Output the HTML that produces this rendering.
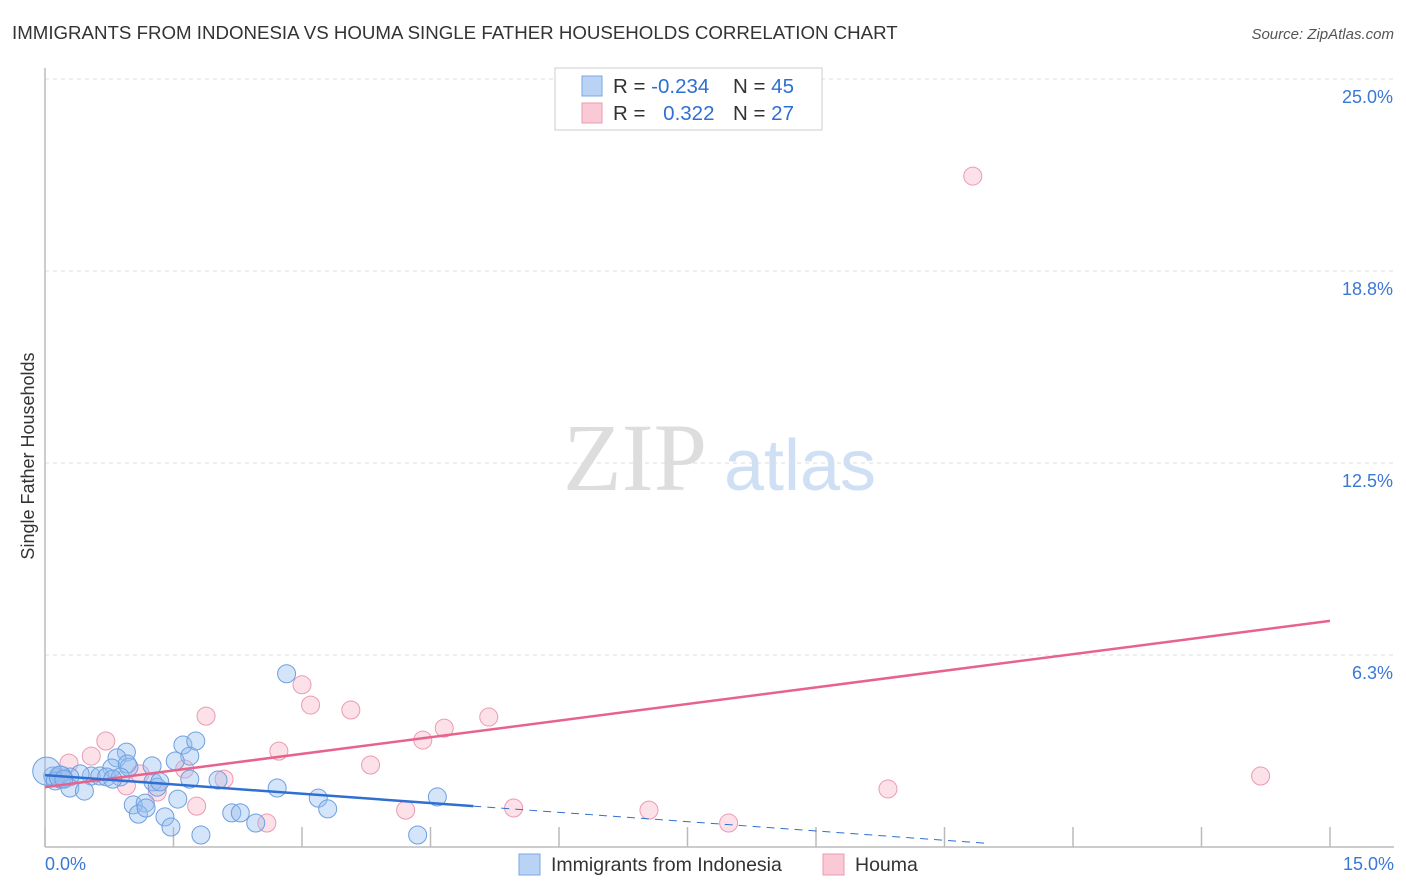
<!DOCTYPE html>
<html><head><meta charset="utf-8">
<style>
body{margin:0;background:#fff;font-family:"Liberation Sans",sans-serif;}
svg{display:block}
</style></head>
<body>
<svg id="chart" width="1406" height="892" xmlns="http://www.w3.org/2000/svg" font-family="Liberation Sans, sans-serif">
<text x="12" y="39" font-size="18.7" fill="#333">IMMIGRANTS FROM INDONESIA VS HOUMA SINGLE FATHER HOUSEHOLDS CORRELATION CHART</text>
<text x="1394" y="39" font-size="15" fill="#555" font-style="italic" text-anchor="end">Source: ZipAtlas.com</text>
<text transform="translate(34,456) rotate(-90)" font-size="18" fill="#333" text-anchor="middle">Single Father Households</text>
<g>
<text x="635" y="490" font-size="96" fill="#ddd" font-family="Liberation Serif, serif" text-anchor="middle">ZIP</text>
<text x="800" y="490" font-size="72" fill="#cfe0f5" text-anchor="middle">atlas</text>
</g>
<g id="grid"></g><g id="axes"></g><g id="marks"></g>
<g>
<rect x="555" y="68" width="267" height="62" fill="#fff" stroke="#ccc"/>
<rect x="582" y="76" width="20" height="20" fill="#b9d3f5" stroke="#7aa7e6"/>
<rect x="582" y="103" width="20" height="20" fill="#f9c9d6" stroke="#eb9ab2"/>
<text x="613" y="93" font-size="20.5" fill="#333">R = <tspan fill="#2f6fd1">-0.234</tspan></text>
<text x="733" y="93" font-size="20.5" fill="#333">N = <tspan fill="#2f6fd1">45</tspan></text>
<text x="613" y="120" font-size="20.5" fill="#333">R = <tspan fill="#2f6fd1" dx="12">0.322</tspan></text>
<text x="733" y="120" font-size="20.5" fill="#333">N = <tspan fill="#2f6fd1">27</tspan></text>
</g>
<g>
<rect x="519" y="854" width="21" height="21" fill="#b9d3f5" stroke="#7aa7e6"/>
<text x="551" y="871" font-size="19.5" fill="#333">Immigrants from Indonesia</text>
<rect x="823" y="854" width="21" height="21" fill="#f9c9d6" stroke="#eb9ab2"/>
<text x="855" y="871" font-size="19.5" fill="#333">Houma</text>
</g>
</svg>
<script>
const xTicks=[0,1.5,3,4.5,6,7.5,9,10.5,12,13.5,15];
const yTicks=[6.25,12.5,18.75,25];
const yTickLabels=["6.3%","12.5%","18.8%","25.0%"];
const blueX=[2.82,1.61,1.76,1.69,1.52,0.95,1.25,0.84,0.98,0.78,0.96,0.54,0.41,0.29,0.18,0.09,0.02,0.12,0.29,0.46,0.18,0.64,0.72,0.88,1.69,1.26,1.31,1.34,1.55,1.03,1.17,1.09,1.18,1.40,1.47,1.82,2.18,2.28,2.46,2.71,3.19,3.30,4.58,4.35,2.02,0.79,0.22];
const blueY=[5.64,3.32,3.45,2.96,2.80,3.09,2.64,2.90,2.60,2.57,2.70,2.31,2.38,2.28,2.34,2.31,2.47,2.15,1.92,1.82,2.28,2.31,2.28,2.28,2.21,2.12,1.95,2.12,1.56,1.37,1.43,1.07,1.27,0.98,0.65,0.39,1.11,1.11,0.78,1.92,1.59,1.24,1.63,0.39,2.18,2.21,2.21];
const blueR=[9,9,9,9,9,9,9,9,9,9,9,9,9,9,9,9,14,9,9,9,11,9,9,9,9,9,9,9,9,9,9,9,9,9,9,9,9,9,9,9,9,9,9,9,9,9,9];
const pinkX=[3.00,3.10,3.57,1.88,0.71,0.54,0.28,1.11,0.95,1.63,1.31,1.77,2.59,2.73,2.09,3.80,4.66,4.41,5.18,4.21,5.47,7.05,7.98,9.84,10.83,14.19,0.15];
const pinkY=[5.28,4.62,4.46,4.26,3.45,2.96,2.73,2.38,1.99,2.54,1.79,1.33,0.78,3.12,2.21,2.67,3.87,3.48,4.23,1.20,1.27,1.20,0.78,1.89,21.84,2.31,2.28];
const pinkTrend=[1.95,7.36];
const blueTrend=[2.34,1.33,5.0,0.1,11.0];
const X0=45,X1=1330,Y0=847,Y1=79;
const xs=v=>X0+(v-0)/15*(X1-X0);
const ys=v=>Y0-(v/25)*(Y0-Y1);
const NS="http://www.w3.org/2000/svg";
function mk(t,a,p){const e=document.createElementNS(NS,t);for(const k in a)e.setAttribute(k,a[k]);p.appendChild(e);return e;}
const grid=document.getElementById('grid'),axes=document.getElementById('axes'),marks=document.getElementById('marks');
yTicks.forEach((v,i)=>{
 const l=mk('line',{x1:X0,x2:1394,y1:ys(v),y2:ys(v),stroke:'#ddd','stroke-dasharray':'4,4'},grid);
 
 
 const t=mk('text',{x:1393,y:ys(v)+24,'font-size':18,fill:'#3a78d6','text-anchor':'end'},axes);
 t.textContent=yTickLabels[i];
 
 
});
const ax=mk('line',{x1:X0,x2:X1+64,y1:Y0,y2:Y0,stroke:'#bbb','stroke-width':1.5},axes);


const ay=mk('line',{x1:X0,x2:X0,y1:68,y2:Y0,stroke:'#bbb','stroke-width':1.5},axes);


xTicks.forEach(v=>{const l=mk('line',{x1:xs(v),x2:xs(v),y1:Y0-20,y2:Y0,stroke:'#bbb','stroke-width':1.5},axes);
 
 });
const xl=mk('text',{x:45,y:870,'font-size':18,fill:'#3a78d6'},axes);xl.textContent='0.0%';


const xr=mk('text',{x:1394,y:870,'font-size':18,fill:'#3a78d6','text-anchor':'end'},axes);xr.textContent='15.0%';


pinkX.forEach((v,i)=>{const c=mk('circle',{cx:xs(v),cy:ys(pinkY[i]),r:9,fill:'rgba(246,168,192,0.35)',stroke:'#eb9ab2','stroke-width':1},marks);
 
 });
blueX.forEach((v,i)=>{const c=mk('circle',{cx:xs(v),cy:ys(blueY[i]),r:blueR[i],fill:'rgba(150,190,240,0.4)',stroke:'#6d9fe0','stroke-width':1},marks);
 
 });
const pl=mk('line',{x1:xs(0),y1:ys(pinkTrend[0]),x2:xs(15),y2:ys(pinkTrend[1]),stroke:'#e8638c','stroke-width':2.5},marks);


const bslope=(blueTrend[1]-blueTrend[0])/blueTrend[2];
const bl=mk('line',{x1:xs(0),y1:ys(blueTrend[0]),x2:xs(blueTrend[2]),y2:ys(blueTrend[1]),stroke:'#2f6fd1','stroke-width':2.5},marks);


const bd=mk('line',{x1:xs(blueTrend[2]),y1:ys(blueTrend[1]),x2:xs(blueTrend[4]),y2:ys(blueTrend[0]+bslope*blueTrend[4]),stroke:'#2f6fd1','stroke-width':1,'stroke-dasharray':'8,6'},marks);


</script>
</body></html>
